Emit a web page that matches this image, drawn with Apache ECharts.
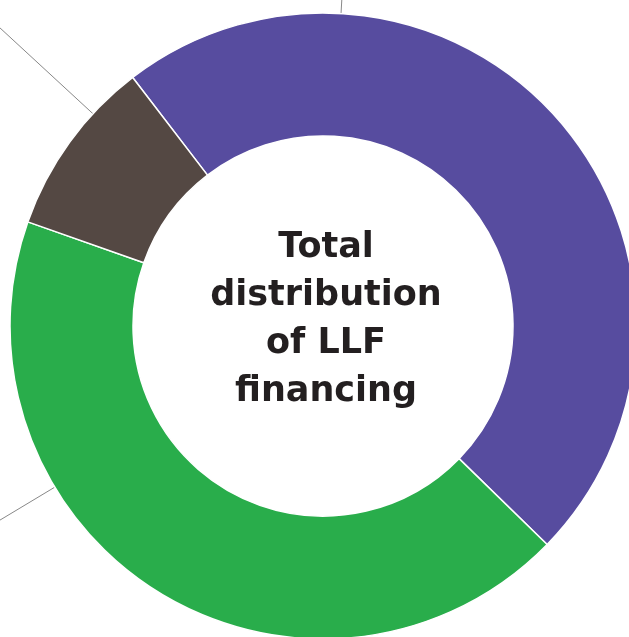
<!DOCTYPE html>
<html>
<head>
<meta charset="utf-8">
<script src="https://cdn.jsdelivr.net/npm/echarts@6/dist/echarts.min.js"></script>
<style>
html,body{margin:0;padding:0;background:#fff;}
#chart{width:629px;height:637px;}
</style>
</head>
<body>
<div id="chart"></div>
<script>
// Data (labels outside the crop are not visible)
const categories = ['Segment A', 'Segment B', 'Segment C'];
const values = [47.7, 43.1, 9.2];
const colors = ['#574c9f', '#29ad4b', '#544843'];
// Leader lines (angles clockwise from 12 o'clock) pointing to labels cut off by the crop
const leaderAngles = [3.3, 239.0, 312.7];
const centerTitle = 'Total\ndistribution\nof LLF\nfinancing';

const CX = 323, CY = 326, R_IN = 190, R_OUT = 313, R_LEAD = 480;

const leaderData = [];
leaderAngles.forEach(function (a, i) {
  if (i > 0) leaderData.push('-');
  leaderData.push([R_OUT, a]);
  leaderData.push([R_LEAD, a]);
});

const chart = echarts.init(document.getElementById('chart'), null, {renderer: 'canvas'});
chart.setOption({
  animation: false,
  backgroundColor: '#ffffff',
  polar: { center: [CX, CY], radius: R_LEAD },
  angleAxis: { type: 'value', min: 0, max: 360, startAngle: 90, clockwise: true, show: false },
  radiusAxis: { type: 'value', min: 0, max: R_LEAD, show: false },
  graphic: [{
    type: 'text',
    x: 326, y: 320,
    z: 100,
    style: {
      text: centerTitle,
      font: 'bold 35px "DejaVu Sans"',
      lineHeight: 48,
      fill: '#231f20',
      align: 'center',
      verticalAlign: 'middle'
    }
  }],
  series: [
    {
      type: 'pie',
      center: [CX, CY],
      radius: [R_IN, R_OUT],
      startAngle: 127.45,
      clockwise: true,
      label: { show: false },
      labelLine: { show: false },
      emphasis: { disabled: true },
      itemStyle: { borderColor: '#ffffff', borderWidth: 1.5 },
      data: categories.map(function (c, i) {
        return { name: c, value: values[i], itemStyle: { color: colors[i] } };
      })
    },
    {
      type: 'line',
      coordinateSystem: 'polar',
      data: leaderData,
      symbol: 'none',
      connectNulls: false,
      silent: true,
      lineStyle: { color: '#888888', width: 1 },
      z: 1
    }
  ]
});
</script>
</body>
</html>
